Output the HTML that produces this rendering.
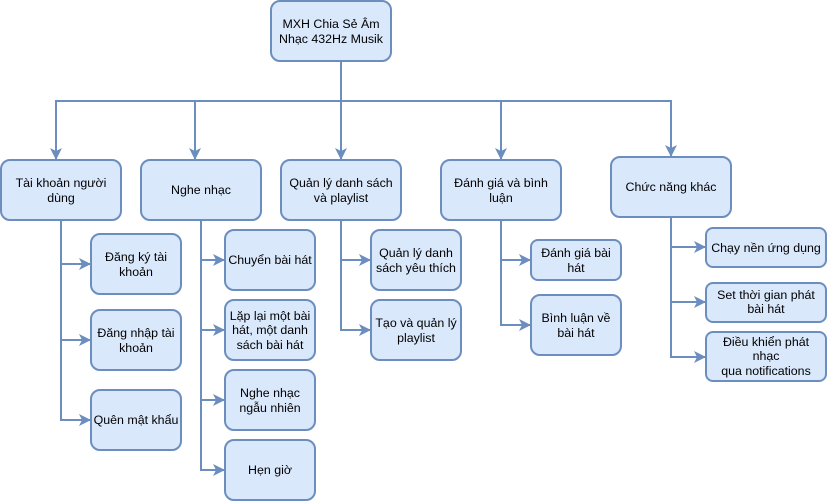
<!DOCTYPE html>
<html><head><meta charset="utf-8"><style>
html,body{margin:0;padding:0;background:#fff;width:828px;height:502px;overflow:hidden}
svg text{font-family:"Liberation Sans",Arial,sans-serif;font-size:12.4px;fill:#000;text-anchor:middle}
</style></head><body>
<svg width="828" height="502" viewBox="0 0 828 502" xmlns="http://www.w3.org/2000/svg">
<defs><marker id="a" markerWidth="12" markerHeight="12" refX="11" refY="6" orient="auto" markerUnits="userSpaceOnUse"><path d="M0,0 L12,6 L0,12 L3,6 Z" fill="#6c8ebf"/></marker></defs>
<g stroke="#6c8ebf" stroke-width="2" fill="none">
<path d="M341,61 V101"/>
<path d="M341,101 H56 V159" marker-end="url(#a)"/>
<path d="M195,101 V159" marker-end="url(#a)"/>
<path d="M341,101 V159" marker-end="url(#a)"/>
<path d="M341,101 H501 V159" marker-end="url(#a)"/>
<path d="M501,101 H671 V156" marker-end="url(#a)"/>
<path d="M61,220 V264 H90" marker-end="url(#a)"/>
<path d="M61,264 V340 H90" marker-end="url(#a)"/>
<path d="M61,340 V420 H90" marker-end="url(#a)"/>
<path d="M201,220 V260 H224" marker-end="url(#a)"/>
<path d="M201,260 V330 H224" marker-end="url(#a)"/>
<path d="M201,330 V400 H224" marker-end="url(#a)"/>
<path d="M201,400 V470 H224" marker-end="url(#a)"/>
<path d="M341,220 V260 H370" marker-end="url(#a)"/>
<path d="M341,260 V330 H370" marker-end="url(#a)"/>
<path d="M501,220 V260 H530" marker-end="url(#a)"/>
<path d="M501,260 V325 H530" marker-end="url(#a)"/>
<path d="M671,217 V247 H705" marker-end="url(#a)"/>
<path d="M671,247 V302 H705" marker-end="url(#a)"/>
<path d="M671,302 V357 H705" marker-end="url(#a)"/>
</g>
<g fill="#dae8fc" stroke="#6c8ebf" stroke-width="2">
<rect x="271" y="1" width="120" height="60" rx="9"/>
<rect x="1" y="160" width="120" height="60" rx="9"/>
<rect x="141" y="160" width="120" height="60" rx="9"/>
<rect x="281" y="160" width="120" height="60" rx="9"/>
<rect x="441" y="160" width="120" height="60" rx="9"/>
<rect x="611" y="157" width="120" height="60" rx="9"/>
<rect x="91" y="234" width="90" height="60" rx="9"/>
<rect x="91" y="310" width="90" height="60" rx="9"/>
<rect x="91" y="390" width="90" height="60" rx="9"/>
<rect x="225" y="230" width="90" height="60" rx="9"/>
<rect x="225" y="300" width="90" height="60" rx="9"/>
<rect x="225" y="370" width="90" height="60" rx="9"/>
<rect x="225" y="440" width="90" height="60" rx="9"/>
<rect x="371" y="230" width="90" height="60" rx="9"/>
<rect x="371" y="300" width="90" height="60" rx="9"/>
<rect x="531" y="240" width="90" height="40" rx="7"/>
<rect x="531" y="295" width="90" height="60" rx="9"/>
<rect x="706" y="228" width="120" height="39" rx="7"/>
<rect x="706" y="283" width="120" height="39" rx="7"/>
<rect x="706" y="332" width="120" height="49" rx="7"/>
</g>
<text x="331" y="28">MXH Chia Sẻ Âm</text><text x="331" y="43">Nhạc 432Hz Musik</text>
<text x="61" y="187">Tài khoản người</text><text x="61" y="202">dùng</text>
<text x="201" y="194">Nghe nhạc</text>
<text x="341" y="187">Quản lý danh sách</text><text x="341" y="202">và playlist</text>
<text x="501" y="187">Đánh giá và bình</text><text x="501" y="202">luận</text>
<text x="671" y="191">Chức năng khác</text>
<text x="136" y="261">Đăng ký tài</text><text x="136" y="276">khoản</text>
<text x="136" y="337">Đăng nhập tài</text><text x="136" y="352">khoản</text>
<text x="136" y="424">Quên mật khẩu</text>
<text x="270" y="264">Chuyển bài hát</text>
<text x="270" y="320">Lặp lại một bài</text><text x="270" y="334">hát, một danh</text><text x="270" y="349">sách bài hát</text>
<text x="270" y="397">Nghe nhạc</text><text x="270" y="412">ngẫu nhiên</text>
<text x="270" y="474">Hẹn giờ</text>
<text x="416" y="257">Quản lý danh</text><text x="416" y="272">sách yêu thích</text>
<text x="416" y="327">Tạo và quản lý</text><text x="416" y="342">playlist</text>
<text x="576" y="257">Đánh giá bài</text><text x="576" y="272">hát</text>
<text x="576" y="322">Bình luận về</text><text x="576" y="337">bài hát</text>
<text x="766" y="252">Chạy nền ứng dụng</text>
<text x="766" y="299">Set thời gian phát</text><text x="766" y="313">bài hát</text>
<text x="766" y="346">Điều khiển phát</text><text x="766" y="360">nhạc</text><text x="766" y="375">qua notifications</text>
</svg>
</body></html>
